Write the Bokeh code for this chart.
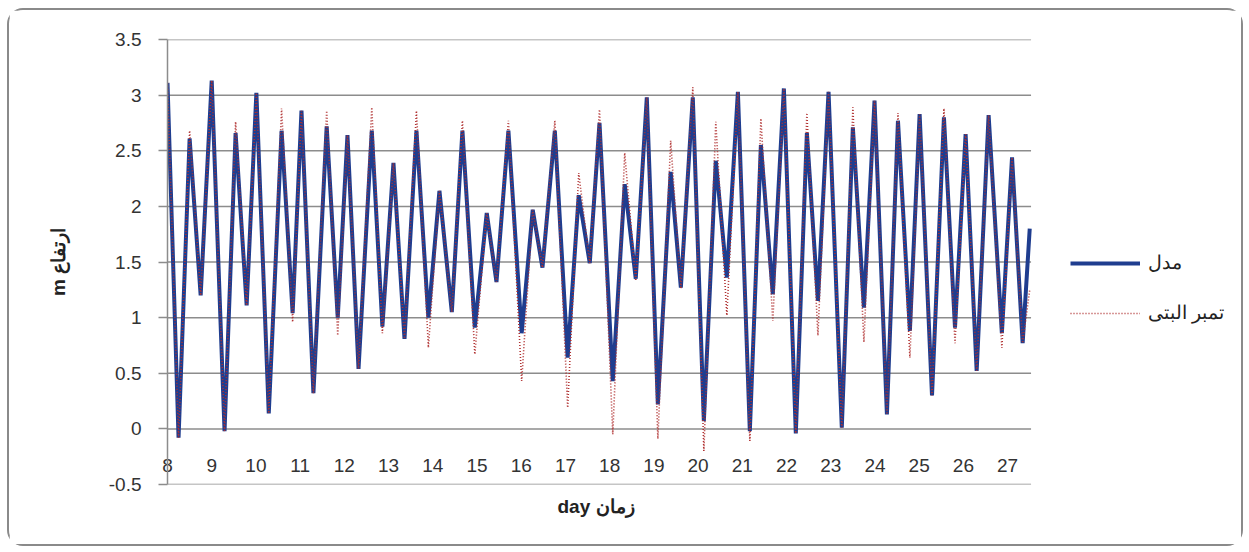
from bokeh.plotting import figure
from bokeh.models import FixedTicker, NumeralTickFormatter, Legend, LegendItem, Title
from bokeh.embed import file_html
from bokeh.resources import INLINE

# time of each high / low water (day)
days = [8.00, 8.25, 8.50, 8.75, 9.00, 9.29, 9.54, 9.79, 10.01, 10.29,
        10.58, 10.83, 11.03, 11.30, 11.60, 11.85, 12.07, 12.32, 12.62, 12.86,
        13.11, 13.36, 13.63, 13.90, 14.15, 14.43, 14.67, 14.95, 15.22, 15.44,
        15.71, 16.01, 16.26, 16.48, 16.76, 17.05, 17.30, 17.55, 17.77, 18.07,
        18.34, 18.59, 18.84, 19.09, 19.38, 19.61, 19.88, 20.13, 20.40, 20.65,
        20.90, 21.17, 21.42, 21.69, 21.94, 22.21, 22.46, 22.71, 22.95, 23.25,
        23.50, 23.75, 23.99, 24.27, 24.52, 24.79, 25.01, 25.29, 25.56, 25.81,
        26.05, 26.30, 26.57, 26.87, 27.10, 27.34, 27.50]

# model water level (m)
model = [3.11, -0.08, 2.61, 1.20, 3.13, -0.02, 2.66, 1.11, 3.02, 0.14,
         2.68, 1.04, 2.86, 0.32, 2.72, 1.00, 2.64, 0.54, 2.68, 0.92,
         2.39, 0.81, 2.68, 1.00, 2.14, 1.05, 2.68, 0.91, 1.94, 1.32,
         2.68, 0.86, 1.97, 1.45, 2.68, 0.64, 2.10, 1.49, 2.75, 0.43,
         2.20, 1.35, 2.98, 0.22, 2.31, 1.27, 2.98, 0.07, 2.41, 1.36,
         3.03, -0.02, 2.55, 1.21, 3.06, -0.04, 2.66, 1.15, 3.03, 0.01,
         2.71, 1.09, 2.95, 0.13, 2.77, 0.88, 2.83, 0.30, 2.80, 0.91,
         2.65, 0.52, 2.82, 0.86, 2.44, 0.77, 1.80]

# observed water level (m)
observed = [3.11, -0.08, 2.68, 1.20, 3.13, -0.02, 2.76, 1.11, 3.02, 0.14,
            2.88, 0.96, 2.86, 0.32, 2.86, 0.84, 2.64, 0.54, 2.89, 0.86,
            2.39, 0.81, 2.86, 0.73, 2.14, 1.05, 2.77, 0.67, 1.94, 1.32,
            2.77, 0.43, 1.97, 1.45, 2.77, 0.19, 2.30, 1.49, 2.87, -0.05,
            2.48, 1.33, 2.98, -0.09, 2.59, 1.26, 3.07, -0.20, 2.76, 1.02,
            3.03, -0.11, 2.79, 0.97, 3.06, -0.04, 2.84, 0.84, 3.03, 0.01,
            2.89, 0.78, 2.95, 0.13, 2.84, 0.64, 2.83, 0.30, 2.88, 0.77,
            2.65, 0.52, 2.82, 0.73, 2.44, 0.77, 1.25]

x_ticks = list(range(8, 28))
x_start, x_end = 8, 27.53
y_ticks = [-0.5, 0, 0.5, 1, 1.5, 2, 2.5, 3, 3.5]
series_names = ["مدل", "تمبر البتی"]
x_label = "day زمان"
y_label = "m ارتفاع"

GRID = "#8c8c8c"
FONT = "Liberation Sans"

p = figure(width=1236, height=538, x_range=(8, 32.38), y_range=(-0.5, 3.5),
           output_backend="svg", toolbar_location=None,
           min_border_left=158, min_border_right=0,
           min_border_top=29, min_border_bottom=64)
p.margin = (8, 0, 0, 7)
p.styles = {"border": "2px solid #8a8a8a", "border-radius": "16px"}
p.outline_line_color = None
p.background_fill_color = "white"

# horizontal gridlines, limited to the data span like the original chart
p.segment(x0=[x_start] * len(y_ticks), x1=[x_end] * len(y_ticks),
          y0=y_ticks, y1=y_ticks, line_color=GRID, line_width=1.5)

blue = p.line(days, model, line_color="#1f3d8f", line_width=4)
red = p.line(days, observed, line_color="#b03030", line_width=1.6, line_dash="1 2")

xa = p.xaxis[0]
xa.ticker = FixedTicker(ticks=x_ticks)
xa.formatter = NumeralTickFormatter(format="0")
xa.major_tick_line_color = None
xa.minor_tick_line_color = None
xa.axis_line_color = None
xa.major_label_standoff = -32
xa.major_label_text_font = FONT
xa.major_label_text_font_size = "19px"
xa.major_label_text_color = "#333333"

ya = p.yaxis[0]
ya.ticker = FixedTicker(ticks=y_ticks)
ya.formatter = NumeralTickFormatter(format="0.[0]")
ya.major_tick_out = 9
ya.major_tick_in = 0
ya.major_tick_line_color = GRID
ya.major_tick_line_width = 1.5
ya.minor_tick_line_color = None
ya.axis_line_color = GRID
ya.axis_line_width = 1.5
ya.major_label_standoff = 17
ya.major_label_text_font = FONT
ya.major_label_text_font_size = "19px"
ya.major_label_text_color = "#333333"
ya.axis_label = y_label
ya.axis_label_standoff = 37
ya.axis_label_text_font = FONT
ya.axis_label_text_font_style = "bold"
ya.axis_label_text_font_size = "19px"
ya.axis_label_text_color = "#222222"

p.grid.grid_line_color = None

xtitle = Title(text=x_label, align="left", offset=390, standoff=18,
               text_font=FONT, text_font_style="bold", text_font_size="19px",
               text_color="#222222")
p.add_layout(xtitle, "below")

legend = Legend(items=[LegendItem(label=series_names[0], renderers=[blue]),
                       LegendItem(label=series_names[1], renderers=[red])],
                location=(903, 160), margin=0, padding=10,
                glyph_width=70, glyph_height=20, spacing=27, label_standoff=8,
                label_text_font=FONT, label_text_font_size="19px",
                label_text_color="#222222", border_line_color=None,
                background_fill_alpha=0)
p.add_layout(legend, "center")

open("out.html", "w").write(file_html(p, INLINE))
